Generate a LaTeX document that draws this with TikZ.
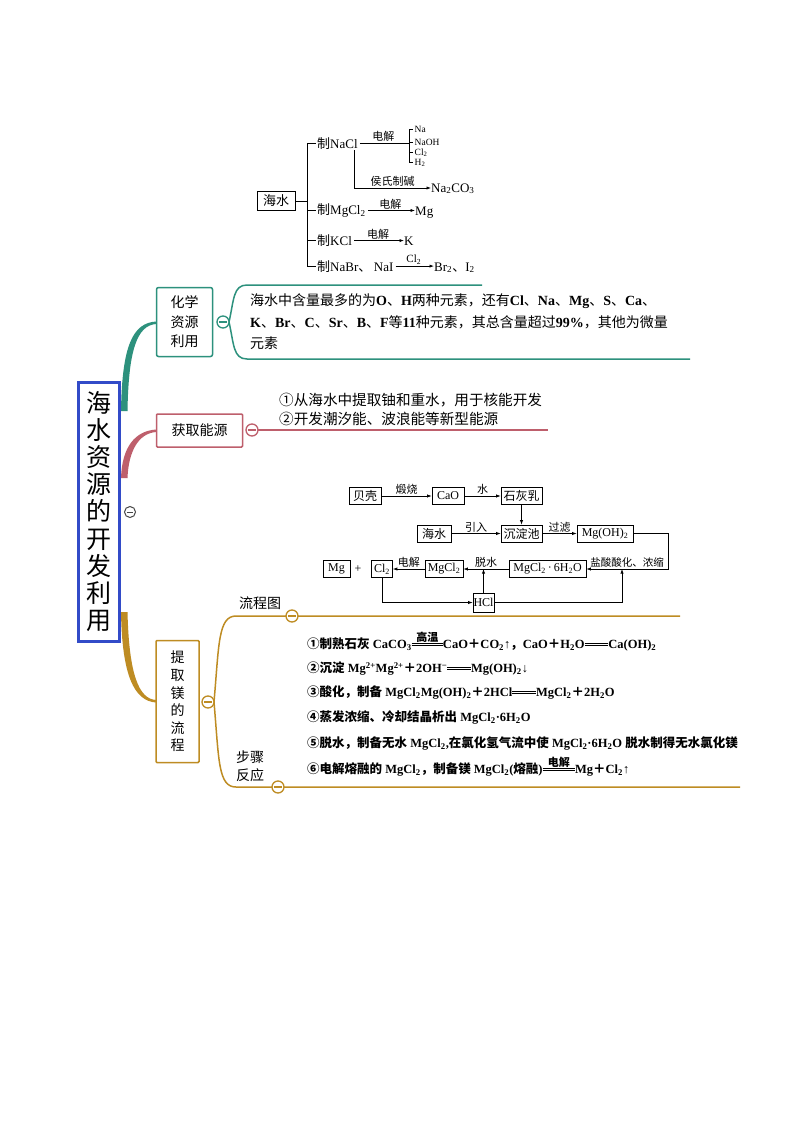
\documentclass[tikz,border=0pt]{standalone}
\usepackage{fontspec}
\setmainfont{Liberation Serif}
\newfontfamily\cjk{Noto Sans CJK SC}
\usetikzlibrary{arrows.meta,calc}
\XeTeXinterchartokenstate=1
\newXeTeXintercharclass\cjkcls
\newcount\mycnt
\newcommand\setcls[2]{\mycnt=#1\relax\loop\XeTeXcharclass\mycnt=\cjkcls\relax\ifnum\mycnt<#2\relax\advance\mycnt by 1\relax\repeat}
\setcls{"2460}{"24FF}
\setcls{"3000}{"303F}
\setcls{"4E00}{"9FFF}
\setcls{"FF00}{"FFEF}
\XeTeXinterchartoks 0 \cjkcls = {\cjk}
\XeTeXinterchartoks 4095 \cjkcls = {\cjk}
\XeTeXinterchartoks \cjkcls 0 = {\rmfamily}
\XeTeXinterchartoks \cjkcls 4095 = {\rmfamily}
\definecolor{cteal}{RGB}{45,145,125}
\definecolor{crose}{RGB}{190,95,108}
\definecolor{cgold}{RGB}{190,140,35}
\definecolor{cblue}{RGB}{50,75,200}
\definecolor{cgray}{RGB}{70,70,70}
\newcommand\mysub[1]{\textsubscript{#1}}
\newcommand\mysup[1]{\textsuperscript{#1}}
\newcommand\deq[2][1.8em]{\hbox to #1{\rlap{\raisebox{0.2em}{\rule{#1}{0.07em}}}\rlap{\raisebox{0.36em}{\rule{#1}{0.07em}}}\hfil\raisebox{0.55em}{\fontsize{11}{11}\selectfont #2}\hfil}}
\newcommand\cminus[5]{%
  \node[circle,draw=#3,fill=white,line width=#5,minimum size=#4,inner sep=0pt] (#1) at (#2) {};
  \draw[#3,line width=#5] (#1.center) +(-0.3*#4,0) -- +(0.3*#4,0);}
\begin{document}
\begin{tikzpicture}[x=1pt,y=-1pt,
  ln/.style={line width=0.7pt},
  arr/.style={line width=0.7pt,-{Latex[length=4.5pt,width=3.2pt]}},
  tt/.style={inner sep=0pt,font=\fontsize{13}{13}\selectfont},
  sm/.style={inner sep=0pt,font=\fontsize{9.5}{9.5}\selectfont},
  lab/.style={inner sep=1.2pt,font=\fontsize{11}{11}\selectfont},
  fb/.style={draw,line width=0.6pt,inner sep=0pt,minimum height=17,font=\fontsize{12}{12}\selectfont},
  brl/.style={line width=1.5pt},
  st/.style={anchor=base west,inner sep=0pt,font=\bfseries\fontsize{12.5}{12.5}\selectfont},
  bt/.style={anchor=base west,inner sep=0pt,font=\fontsize{14}{14}\selectfont},
  lb/.style={inner sep=0pt,font=\fontsize{14}{14}\selectfont}]
\fill[white] (0,0) rectangle (800,1132);
\useasboundingbox (0,0) rectangle (800,1132);

% ---------- top tree ----------
\node[draw,line width=0.8pt,minimum width=38,minimum height=19,inner sep=0pt,font=\fontsize{13}{13}\selectfont] (hs) at (276,201) {海水};
\node[tt,anchor=base west] (n1) at (317,148) {制NaCl};
\node[tt,anchor=base west] (n2) at (317,214.5) {制MgCl\mysub{2}};
\node[tt,anchor=base west] (n3) at (317,245.5) {制KCl};
\node[tt,anchor=base west] (n4) at (317,271) {制NaBr、\hspace{0.2em}NaI};
\coordinate (tA) at (307,143);
\draw[ln] (n1.west -| tA) -- (n4.west -| tA);
\draw[ln] (hs.east) -- (hs.east -| tA);
\foreach \n in {n1,n2,n3,n4} \draw[ln,shorten >=1.5pt] (\n.west -| tA) -- (\n.west);
\coordinate (bA) at (409,129);
\coordinate (bD) at (409,163);
\draw[ln,shorten <=2pt] (n1.east) -- (n1.east -| bA) node[midway,above,lab]{电解};
\draw[ln] (bA) -- (bD);
\foreach \y in {129,142,152.5,162.5} \draw[ln] (409,\y) -- (413,\y);
\node[sm,anchor=base west] (na) at (414.5,132) {Na};
\node[sm,anchor=base west] (naoh) at (414.5,145) {NaOH};
\node[sm,anchor=base west] (cl) at (414.5,155.5) {Cl\mysub{2}};
\node[sm,anchor=base west] (hh) at (414.5,165.5) {H\mysub{2}};
\node[tt,anchor=base west] (nco) at (431,192) {Na\mysub{2}CO\mysub{3}};
\coordinate (cA) at (354,150);
\coordinate (cB) at (354,188);
\draw[arr] (cA) -- (cB) -- (cB -| nco.west) node[midway,above,lab]{侯氏制碱};
\node[tt,anchor=base west] (mg1) at (415,215) {Mg};
\draw[arr,shorten <=2pt] (n2.east) -- (n2.east -| mg1.west) node[midway,above,lab]{电解};
\node[tt,anchor=base west] (kk) at (404,245.5) {K};
\draw[arr,shorten <=2pt] (n3.east) -- (n3.east -| kk.west) node[midway,above,lab]{电解};
\node[tt,anchor=base west] (br) at (434,271) {Br\mysub{2}、I\mysub{2}};
\draw[arr,shorten <=2pt] (n4.east) -- (n4.east -| br.west) node[midway,above,lab]{Cl\mysub{2}};

% ---------- main branches (tapered) ----------
\fill[cteal] (121,411) .. controls (122,345) and (133,323) .. (156,321.5) -- (156,324) .. controls (137,325.5) and (128.5,350) .. (127.5,411) -- cycle;
\fill[crose] (121,478) .. controls (122,447) and (135,431) .. (156,429.5) -- (156,432) .. controls (138,433.5) and (128.5,452) .. (127.5,478) -- cycle;
\fill[cgold] (121,612) .. controls (122,675) and (134,701) .. (156,702.5) -- (156,700) .. controls (139,699) and (129,675) .. (127.5,612) -- cycle;

\node[draw=cblue,fill=white,line width=3pt,minimum width=41,minimum height=259,inner sep=0pt] (main) at (99,512) {};
\foreach \c [count=\i from 0] in {海,水,资,源,的,开,发,利,用}
  \node[anchor=base,inner sep=0pt,font=\fontsize{25}{25}\selectfont] at (99,{403+27.1*\i+9.5}) {\c};
\cminus{cm}{130,512}{cgray}{11}{1pt}

% ---------- branch 1 ----------
\node[draw=cteal,fill=white,line width=1.5pt,rounded corners=2pt,minimum width=56,minimum height=69,inner sep=0pt,align=center,font=\fontsize{14}{19.5}\selectfont] (b1) at (184.5,322) {化学\\资源\\利用};
\coordinate (c1e) at (229,322);
\draw[cteal,brl] (c1e) .. controls (234,300) and (233,285) .. (247,285) -- (482,285);
\draw[cteal,brl] (c1e) .. controls (234,344) and (233,359) .. (247,359) -- (690,359);
\cminus{c1}{223,322}{cteal}{12}{1.3pt}
\node[bt] (t1) at (250,305) {海水中含量最多的为\textbf{O}、\textbf{H}两种元素，还有\textbf{Cl}、\textbf{Na}、\textbf{Mg}、\textbf{S}、\textbf{Ca}、};
\node[bt] (t2) at (250,327) {\textbf{K}、\textbf{Br}、\textbf{C}、\textbf{Sr}、\textbf{B}、\textbf{F}等\textbf{11}种元素，其总含量超过\textbf{99\%}，其他为微量};
\node[bt] (t3) at (250,348.5) {元素};

% ---------- branch 2 ----------
\node[draw=crose,fill=white,line width=1.5pt,rounded corners=1pt,minimum width=86,minimum height=33,inner sep=0pt,font=\fontsize{14}{14}\selectfont] (b2) at (199.5,430.5) {获取能源};
\coordinate (c2e) at (258,430);
\draw[crose,brl] (c2e) -- (548,430);
\cminus{c2}{252,430}{crose}{12}{1.3pt}
\node[anchor=base west,inner sep=0pt,font=\fontsize{14.6}{14.6}\selectfont] (e1) at (279,405.5) {①从海水中提取铀和重水，用于核能开发};
\node[anchor=base west,inner sep=0pt,font=\fontsize{14.6}{14.6}\selectfont] (e2) at (279,424) {②开发潮汐能、波浪能等新型能源};

% ---------- branch 3 ----------
\node[draw=cgold,fill=white,line width=1.5pt,rounded corners=1pt,minimum width=43,minimum height=122,inner sep=0pt,align=center,font=\fontsize{14}{17.6}\selectfont] (b3) at (177.5,701.5) {提\\取\\镁\\的\\流\\程};
\coordinate (c3e) at (214,702);
\draw[cgold,brl] (c3e) .. controls (219,645) and (218,616) .. (236,616) -- (680,616);
\draw[cgold,brl] (c3e) .. controls (219,760) and (218,787) .. (236,787) -- (740,787);
\cminus{c3}{208,702}{cgold}{12}{1.3pt}
\cminus{c4}{292,616}{cgold}{12}{1.3pt}
\cminus{c5}{278,787}{cgold}{12}{1.3pt}
\node[lb] (l1) at (260,603) {流程图};
\node[lb] (l2) at (250,757) {步骤};
\node[lb] (l3) at (250,775) {反应};

% ---------- flow chart ----------
\node[fb,minimum width=32] (bk) at (365,496) {贝壳};
\node[fb,minimum width=32] (cao) at (448,496) {CaO};
\node[fb,minimum width=41] (shr) at (521.5,496) {石灰乳};
\node[fb,minimum width=34] (hs2) at (434,533.5) {海水};
\node[fb,minimum width=41] (cdc) at (521.5,533.5) {沉淀池};
\node[fb,minimum width=56] (moh) at (605,533.5) {Mg(OH)\mysub{2}};
\node[fb,minimum width=77] (m6) at (547.5,569) {MgCl\mysub{2}\,·\,6H\mysub{2}O};
\node[fb,minimum width=38] (mcl) at (444,569) {MgCl\mysub{2}};
\node[fb,minimum width=21] (cl2) at (382,569) {Cl\mysub{2}};
\node[inner sep=0pt,font=\fontsize{12}{12}\selectfont] (plus) at (358,569) {+};
\node[fb,minimum width=27] (mgb) at (336.5,569) {Mg};
\node[fb,minimum width=21,minimum height=19] (hcl) at (483.5,602.5) {HCl};
\draw[arr] (bk) -- (cao) node[midway,above,lab]{煅烧};
\draw[arr] (cao) -- (shr) node[midway,above,lab]{水};
\draw[arr] (shr) -- (cdc);
\draw[arr] (hs2) -- (cdc) node[midway,above,lab]{引入};
\draw[arr] (cdc) -- (moh) node[midway,above,lab]{过滤};
\coordinate (r1) at (668,533.5);
\coordinate (r2) at (668,569);
\draw[arr] (moh.east) -- (r1) -- (r2) -- (m6.east) node[midway,above,lab,font=\fontsize{10.5}{10.5}\selectfont]{盐酸酸化、浓缩};
\draw[arr] (m6) -- (mcl) node[midway,above,lab]{脱水};
\draw[arr] (mcl) -- (cl2) node[midway,above,lab]{电解};
\draw[arr] (cl2.south) |- (hcl.west);
\draw[arr] (hcl.north) -- (hcl.north |- m6.west);
\coordinate (r3) at (622,569);
\draw[arr] (hcl.east) -| (r3);

% ---------- steps ----------
\node[st] (s1) at (307,648.5) {①制熟石灰 CaCO\mysub{3}\deq[2.5em]{高温}CaO＋CO\mysub{2}↑，CaO＋H\mysub{2}O\deq[1.9em]{}Ca(OH)\mysub{2}};
\node[st] (s2) at (307,672.5) {②沉淀 Mg\mysup{2+}Mg\mysup{2+}＋2OH\mysup{−}\deq[1.9em]{}Mg(OH)\mysub{2}↓};
\node[st] (s3) at (307,696.5) {③酸化，制备 MgCl\mysub{2}Mg(OH)\mysub{2}＋2HCl\deq[1.9em]{}MgCl\mysub{2}＋2H\mysub{2}O};
\node[st] (s4) at (307,721.5) {④蒸发浓缩、冷却结晶析出 MgCl\mysub{2}·6H\mysub{2}O};
\node[st] (s5) at (307,747.5) {⑤脱水，制备无水 MgCl\mysub{2},在氯化氢气流中使 MgCl\mysub{2}·6H\mysub{2}O 脱水制得无水氯化镁};
\node[st] (s6) at (307,773.5) {⑥电解熔融的 MgCl\mysub{2}，制备镁 MgCl\mysub{2}(熔融)\deq[2.6em]{电解}Mg＋Cl\mysub{2}↑};
\end{tikzpicture}
\end{document}
